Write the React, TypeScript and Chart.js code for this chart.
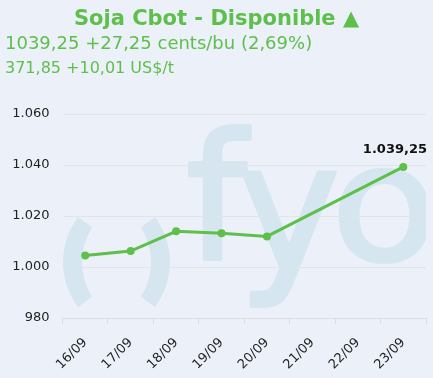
import React, { useEffect, useRef } from 'react';
import { Chart, registerables } from 'chart.js';

Chart.register(...registerables);

const categories = ['16/09', '17/09', '18/09', '19/09', '20/09', '21/09', '22/09', '23/09'];
const prices: (number | null)[] = [1004.5, 1006.25, 1014, 1013.25, 1012, null, null, 1039.25];
const yTicks = [980, 1000, 1020, 1040, 1060];
const titleText = 'Soja Cbot - Disponible ▲';
const priceLine = '1039,25 +27,25 cents/bu (2,69%)';
const tonLine = '371,85 +10,01 US$/t';
const lastLabel = '1.039,25';

const GREEN = '#5EBF4B';
const BG = '#ECF1F9';
const WATER = '#D6E6F0';

const fmt = (v: number) =>
  v >= 1000 ? Math.floor(v / 1000) + '.' + String(v % 1000).padStart(3, '0') : String(v);

const deg = (d: number) => (d * Math.PI) / 180;

const watermarkPlugin = {
  id: 'watermark',
  beforeDraw(chart: any) {
    const { ctx, chartArea } = chart;
    ctx.save();
    ctx.beginPath();
    ctx.rect(chartArea.left, chartArea.top, chartArea.right - chartArea.left, chartArea.bottom - chartArea.top);
    ctx.clip();
    ctx.fillStyle = WATER;
    ctx.strokeStyle = WATER;
    // left paren (crescent)
    ctx.beginPath();
    ctx.arc(138, 262, 75, deg(216.87), deg(143.13), true);
    ctx.arc(146.5, 262, 64.5, deg(147.3), deg(212.7), false);
    ctx.closePath();
    ctx.fill();
    // right paren (mirror)
    ctx.beginPath();
    ctx.arc(95, 262, 75, deg(-36.87), deg(36.87), false);
    ctx.arc(86.5, 262, 64.5, deg(32.7), deg(-32.7), true);
    ctx.closePath();
    ctx.fill();
    // letters, each fitted to its ink box
    const sw = 4;
    const fam = '"DejaVu Sans", sans-serif';
    ctx.lineWidth = sw;
    ctx.lineJoin = 'round';
    ctx.textAlign = 'left';
    ctx.textBaseline = 'alphabetic';
    const put = (ch: string, left: number, top: number, right: number, bottom: number) => {
      ctx.font = `100px ${fam}`;
      const m0 = ctx.measureText(ch);
      const h0 = m0.actualBoundingBoxAscent + m0.actualBoundingBoxDescent;
      const size = (100 * (bottom - top - sw)) / h0;
      ctx.font = `${size}px ${fam}`;
      const m = ctx.measureText(ch);
      const w = m.actualBoundingBoxLeft + m.actualBoundingBoxRight;
      const sx = (right - left - sw) / w;
      ctx.save();
      ctx.translate(left + sw / 2, bottom - sw / 2 - m.actualBoundingBoxDescent);
      ctx.scale(sx, 1);
      ctx.fillText(ch, m.actualBoundingBoxLeft, 0);
      ctx.strokeText(ch, m.actualBoundingBoxLeft, 0);
      ctx.restore();
    };
    put('f', 188, 125, 252, 262);
    put('y', 241, 170, 338, 308);
    put('o', 338, 167, 431, 264);
    ctx.restore();
  },
};

const lastLabelPlugin = {
  id: 'lastLabel',
  afterDatasetsDraw(chart: any) {
    const { ctx, chartArea } = chart;
    const meta = chart.getDatasetMeta(0);
    const idx = prices.length - 1;
    const pt = meta.data[idx];
    if (!pt) return;
    ctx.save();
    ctx.font = 'bold 13px "DejaVu Sans"';
    ctx.fillStyle = '#111';
    const w = ctx.measureText(lastLabel).width;
    const x = Math.min(pt.x, chartArea.right + 1 - w / 2);
    ctx.textAlign = 'center';
    ctx.textBaseline = 'alphabetic';
    ctx.fillText(lastLabel, x, pt.y - 14);
    ctx.restore();
  },
};

export default function App() {
  const ref = useRef<HTMLCanvasElement>(null);
  useEffect(() => {
    document.body.style.margin = '0';
    const chart = new Chart(ref.current as HTMLCanvasElement, {
      type: 'line',
      data: {
        labels: categories,
        datasets: [
          {
            data: prices,
            borderColor: GREEN,
            backgroundColor: GREEN,
            borderWidth: 3,
            pointRadius: 4,
            pointBorderWidth: 0,
            pointBackgroundColor: GREEN,
            spanGaps: true,
            tension: 0,
          },
        ],
      },
      options: {
        responsive: false,
        animation: false,
        devicePixelRatio: 1,
        layout: { padding: { top: 114, right: 7, left: 0, bottom: 0 } },
        plugins: { legend: { display: false }, tooltip: { enabled: false }, title: { display: false } },
        scales: {
          x: {
            offset: true,
            grid: { offset: true, drawOnChartArea: false, drawTicks: true, tickLength: 6, color: '#DADDE2' },
            border: { display: true, color: '#DADDE2' },
            ticks: {
              minRotation: 45,
              maxRotation: 45,
              autoSkip: false,
              color: '#222',
              font: { family: '"DejaVu Sans"', size: 13 },
              padding: 11,
            },
            afterFit(scale: any) {
              scale.height = 60;
            },
          },
          y: {
            min: 980,
            max: 1060,
            afterBuildTicks(scale: any) {
              scale.ticks = yTicks.map((v) => ({ value: v }));
            },
            grid: { color: '#E2E4E8', drawTicks: false },
            border: { display: false },
            ticks: {
              color: '#222',
              font: { family: '"DejaVu Sans"', size: 13 },
              padding: 13,
              callback: (v: any) => fmt(Number(v)),
            },
            afterFit(scale: any) {
              scale.width = 62.5;
            },
          },
        },
      },
      plugins: [watermarkPlugin, lastLabelPlugin],
    });
    return () => chart.destroy();
  }, []);

  const font = '"DejaVu Sans", Verdana, sans-serif';
  return (
    <div style={{ position: 'absolute', left: 0, top: 0, width: 433, height: 378, background: BG, overflow: 'hidden' }}>
      <canvas ref={ref} width={433} height={378} style={{ position: 'absolute', left: 0, top: 0 }} />
      <div
        style={{
          position: 'absolute', left: 0, width: 433, top: 7.7, textAlign: 'center', fontFamily: font,
          fontWeight: 'bold', fontSize: 21, lineHeight: '21px', color: GREEN, whiteSpace: 'nowrap',
        }}
      >
        {titleText}
      </div>
      <div
        style={{
          position: 'absolute', left: 5, top: 33.8, fontFamily: font, fontSize: 18, lineHeight: '18px',
          color: GREEN, whiteSpace: 'nowrap',
        }}
      >
        {priceLine}
      </div>
      <div
        style={{
          position: 'absolute', left: 5, top: 59.6, fontFamily: font, fontSize: 16, lineHeight: '16px',
          color: GREEN, whiteSpace: 'nowrap',
        }}
      >
        {tonLine}
      </div>
    </div>
  );
}
